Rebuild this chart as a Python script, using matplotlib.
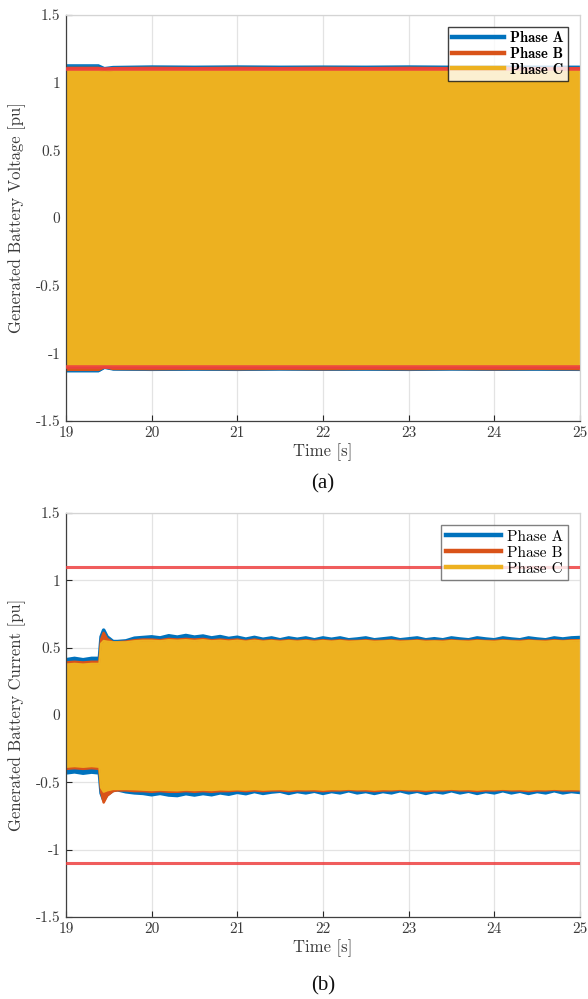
import numpy as np
import matplotlib
matplotlib.use("Agg")
import matplotlib.pyplot as plt
from matplotlib.lines import Line2D
from matplotlib.font_manager import FontProperties

plt.rcParams["font.family"] = "cmr10"
plt.rcParams["axes.unicode_minus"] = False

# ---------------- data (envelopes) ----------------
phase_names = ["Phase A", "Phase B", "Phase C"]
phase_colors = ["#0072BD", "#D95319", "#EDB120"]
limit_color = "#EE4040"
limit_level = 1.1

x_ticks = [19, 20, 21, 22, 23, 24, 25]
y_ticks = [-1.5, -1, -0.5, 0, 0.5, 1, 1.5]
y_tick_labels = ["-1.5", "-1", "-0.5", "0", "0.5", "1", "1.5"]

# voltage envelope knots
t_volt = [19.0, 19.38, 19.45, 19.55, 20.0, 20.5, 21.0, 21.5, 22.0, 22.5, 23.0, 23.5, 24.0, 24.5, 25.0]
va_hi = [1.13, 1.13, 1.11, 1.118, 1.122, 1.12, 1.122, 1.12, 1.121, 1.12, 1.122, 1.12, 1.121, 1.12, 1.12]
va_lo = [-1.135, -1.135, -1.11, -1.122, -1.125, -1.123, -1.125, -1.122, -1.124, -1.123, -1.125, -1.122, -1.124, -1.123, -1.125]
vb_hi = [1.112, 1.112, 1.10, 1.11, 1.112, 1.11, 1.112, 1.11, 1.112, 1.11, 1.112, 1.11, 1.112, 1.11, 1.11]
vb_lo = [-1.125, -1.125, -1.105, -1.118, -1.12, -1.118, -1.12, -1.118, -1.12, -1.118, -1.12, -1.118, -1.12, -1.118, -1.12]
vc_hi = [1.09, 1.09, 1.085, 1.09, 1.09, 1.09, 1.09, 1.09, 1.09, 1.09, 1.09, 1.09, 1.09, 1.09, 1.09]
vc_lo = [-1.095, -1.095, -1.09, -1.095, -1.095, -1.095, -1.095, -1.095, -1.095, -1.095, -1.095, -1.095, -1.095, -1.095, -1.095]

# current envelope knots
t_curr = [19.0, 19.1, 19.2, 19.3, 19.39, 19.41, 19.44, 19.48, 19.55] + \
    list(np.round(np.arange(19.6, 25.01, 0.1), 2))

ia_hi = [0.41, 0.42, 0.41, 0.42, 0.42, 0.58, 0.63, 0.58, 0.545,
         0.545, 0.55, 0.57, 0.575,
         0.58, 0.572, 0.588, 0.578, 0.59, 0.578, 0.586, 0.572, 0.582, 0.568,
         0.577, 0.563, 0.576, 0.562, 0.572, 0.558, 0.572, 0.562, 0.572, 0.558,
         0.572, 0.562, 0.572, 0.558, 0.564, 0.572, 0.558, 0.565, 0.572, 0.558,
         0.565, 0.572, 0.558, 0.566, 0.558, 0.572, 0.564, 0.558, 0.572, 0.564,
         0.558, 0.572, 0.564, 0.558, 0.572, 0.564, 0.558, 0.572, 0.564, 0.572,
         0.575]
ia_lo = [-0.43, -0.422, -0.432, -0.424, -0.43, -0.58, -0.63, -0.59, -0.56,
         -0.555, -0.57, -0.578, -0.582,
         -0.592, -0.582, -0.594, -0.598, -0.584, -0.594, -0.583, -0.592, -0.578, -0.588,
         -0.574, -0.584, -0.568, -0.582, -0.572, -0.566, -0.582, -0.568, -0.578, -0.566,
         -0.582, -0.568, -0.578, -0.562, -0.578, -0.568, -0.582, -0.568, -0.578, -0.562,
         -0.578, -0.566, -0.582, -0.568, -0.578, -0.562, -0.578, -0.566, -0.582, -0.568,
         -0.578, -0.562, -0.578, -0.566, -0.582, -0.568, -0.578, -0.562, -0.578, -0.568,
         -0.575]
ib_hi = [0.39, 0.395, 0.39, 0.395, 0.395, 0.56, 0.61, 0.565, 0.54,
         0.54, 0.545, 0.555, 0.56,
         0.56, 0.555, 0.565, 0.56, 0.565, 0.56, 0.565, 0.555, 0.56, 0.555,
         0.56, 0.55, 0.56, 0.55, 0.555, 0.55, 0.555, 0.55, 0.555, 0.55,
         0.555, 0.55, 0.555, 0.55, 0.55, 0.555, 0.55, 0.55, 0.555, 0.55,
         0.55, 0.555, 0.55, 0.55, 0.55, 0.555, 0.55, 0.55, 0.555, 0.55,
         0.55, 0.555, 0.55, 0.55, 0.555, 0.55, 0.55, 0.555, 0.55, 0.555,
         0.555]
ib_lo = [-0.40, -0.395, -0.40, -0.395, -0.40, -0.57, -0.65, -0.60, -0.565,
         -0.56, -0.56, -0.565, -0.565,
         -0.57, -0.565, -0.57, -0.57, -0.565, -0.57, -0.565, -0.57, -0.565, -0.565,
         -0.56, -0.565, -0.56, -0.565, -0.56, -0.56, -0.565, -0.56, -0.56, -0.56,
         -0.565, -0.56, -0.56, -0.555, -0.56, -0.56, -0.565, -0.56, -0.56, -0.555,
         -0.56, -0.56, -0.565, -0.56, -0.56, -0.555, -0.56, -0.56, -0.565, -0.56,
         -0.56, -0.555, -0.56, -0.56, -0.565, -0.56, -0.56, -0.555, -0.56, -0.56,
         -0.56]
ic_hi = [0.375, 0.38, 0.375, 0.38, 0.38, 0.53, 0.55, 0.545, 0.54,
         0.54, 0.54, 0.548, 0.552,
         0.552, 0.548, 0.556, 0.552, 0.556, 0.55, 0.556, 0.548, 0.552, 0.546,
         0.552, 0.545, 0.552, 0.545, 0.55, 0.544, 0.55, 0.545, 0.55, 0.544,
         0.55, 0.545, 0.55, 0.544, 0.547, 0.55, 0.544, 0.547, 0.55, 0.544,
         0.547, 0.55, 0.544, 0.547, 0.544, 0.55, 0.547, 0.544, 0.55, 0.547,
         0.544, 0.55, 0.547, 0.544, 0.55, 0.547, 0.544, 0.55, 0.547, 0.55,
         0.552]
ic_lo = [-0.385, -0.38, -0.385, -0.38, -0.385, -0.54, -0.57, -0.56, -0.55,
         -0.55, -0.55, -0.552, -0.555,
         -0.558, -0.555, -0.558, -0.56, -0.555, -0.558, -0.555, -0.558, -0.553, -0.555,
         -0.552, -0.555, -0.55, -0.555, -0.552, -0.55, -0.555, -0.55, -0.552, -0.55,
         -0.555, -0.55, -0.552, -0.548, -0.552, -0.55, -0.555, -0.55, -0.552, -0.548,
         -0.552, -0.55, -0.555, -0.55, -0.552, -0.548, -0.552, -0.55, -0.555, -0.55,
         -0.552, -0.548, -0.552, -0.55, -0.555, -0.55, -0.552, -0.548, -0.552, -0.55,
         -0.552]


def style_axes(ax, ylabel):
    ax.set_xlim(19, 25)
    ax.set_ylim(-1.5, 1.5)
    ax.set_xticks(x_ticks)
    ax.set_xticklabels([str(v) for v in x_ticks])
    ax.set_yticks(y_ticks)
    ax.set_yticklabels(y_tick_labels)
    ax.grid(True, color="#e3e3e3", linewidth=0.9)
    ax.set_axisbelow(True)
    ax.tick_params(direction="in", length=4, width=0.8, colors="#262626",
                   labelsize=11, pad=4)
    ax.tick_params(labelcolor="#3a3a3a")
    for side in ["left", "bottom"]:
        ax.spines[side].set_color("#404040")
        ax.spines[side].set_linewidth(0.9)
    for side in ["top", "right"]:
        ax.spines[side].set_color("#d4d4d4")
        ax.spines[side].set_linewidth(0.9)
    ax.set_xlabel("Time [s]", fontsize=12, labelpad=2, color="#3a3a3a")
    ax.set_ylabel(ylabel, fontsize=12, labelpad=7, color="#3a3a3a")


def draw_phases(ax, t, bands, edge_lws):
    for (lo, hi), col, lw in zip(bands, phase_colors, edge_lws):
        ax.fill_between(t, lo, hi, color=col, linewidth=0, zorder=2)
        ax.plot(t, hi, color=col, linewidth=lw, zorder=2)
        ax.plot(t, lo, color=col, linewidth=lw, zorder=2)


fig = plt.figure(figsize=(5.88, 9.99), dpi=100)

ax1 = fig.add_axes([0.1122, 0.5786, 0.8741, 0.4064])
ax2 = fig.add_axes([0.1122, 0.0821, 0.8741, 0.4044])

# (a) voltage
draw_phases(ax1, t_volt, [(va_lo, va_hi), (vb_lo, vb_hi), (vc_lo, vc_hi)], [1.2, 1.2, 1.2])
ax1.axhline(limit_level, color=limit_color, linewidth=2.6, alpha=0.9, zorder=3)
ax1.axhline(-limit_level, color=limit_color, linewidth=2.6, alpha=0.9, zorder=3)
style_axes(ax1, "Generated Battery Voltage [pu]")

# (b) current
draw_phases(ax2, t_curr, [(ia_lo, ia_hi), (ib_lo, ib_hi), (ic_lo, ic_hi)], [2.6, 1.8, 1.6])
ax2.axhline(limit_level, color=limit_color, linewidth=2.2, alpha=0.85, zorder=3)
ax2.axhline(-limit_level, color=limit_color, linewidth=2.2, alpha=0.85, zorder=3)
style_axes(ax2, "Generated Battery Current [pu]")

handles = [Line2D([0], [0], color=c, linewidth=3.2) for c in phase_colors]

leg1 = ax1.legend(handles, phase_names, loc="upper right",
                  prop=FontProperties(family="cmb10", size=10.5),
                  frameon=True, fancybox=False, borderpad=0.3,
                  handlelength=3.6, handletextpad=0.4, labelspacing=0.12,
                  borderaxespad=0.8)
leg1.get_frame().set_edgecolor("#111111")
leg1.get_frame().set_linewidth(1.0)
leg1.set_zorder(5)

leg2 = ax2.legend(handles, phase_names, loc="upper right",
                  prop=FontProperties(family="cmr10", size=11),
                  frameon=True, fancybox=False, borderpad=0.3,
                  handlelength=3.6, handletextpad=0.4, labelspacing=0.15,
                  borderaxespad=0.8)
leg2.get_frame().set_edgecolor("#606060")
leg2.get_frame().set_linewidth(1.0)
leg2.set_zorder(5)

cap_font = ["Liberation Serif", "Times New Roman", "DejaVu Serif"]
fig.text(323 / 588, 1 - 484 / 999, "(a)", ha="center", va="center",
         fontsize=15, family=cap_font, color="#111111")
fig.text(323 / 588, 1 - 986 / 999, "(b)", ha="center", va="center",
         fontsize=15, family=cap_font, color="#111111")

fig.savefig("out.png", dpi=100)
